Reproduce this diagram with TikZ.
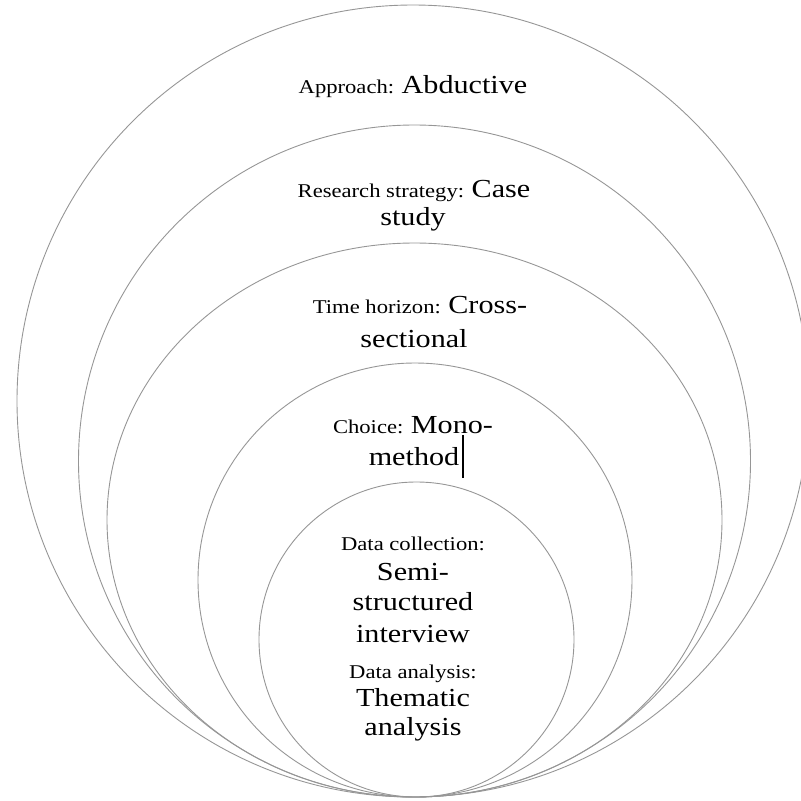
\documentclass[tikz,border=0pt]{standalone}
\usepackage{fontspec}
\setmainfont{Liberation Serif}[FakeStretch=1.16]
\newcommand\lblsm{\fontsize{19.5}{23}\selectfont}
\newcommand\lblbg{\fontsize{26}{30}\selectfont}
\begin{document}
\begin{tikzpicture}[x=1pt,y=-1pt,
  ring/.style={draw={rgb,255:red,150;green,150;blue,150},line width=0.9pt},
  txt/.style={anchor=base,inner sep=0pt,text=black}]
\useasboundingbox (0,0) rectangle (801,801);
\clip (0,0) rectangle (801,801);
\draw[ring] (413,401) circle[radius=396pt];
\draw[ring] (414.5,461) circle[radius=336pt];
\draw[ring] (414.5,520) ellipse[x radius=307.5pt,y radius=277pt];
\draw[ring] (415,580) circle[radius=217pt];
\draw[ring] (416.5,639.5) circle[radius=157.5pt];
\node[txt] (t1) at (413,93) {\lblsm Approach: \lblbg Abductive};
\node[txt] (t2) at (414,197) {\lblsm Research strategy: \lblbg Case};
\node[txt] (t3) at (413,225) {\lblbg study};
\node[txt] (t4) at (420,313) {\lblsm Time horizon: \lblbg Cross-};
\node[txt] (t5) at (414,347) {\lblbg sectional};
\node[txt] (t6) at (413,433) {\lblsm Choice: \lblbg Mono-};
\node[txt] (t7) at (414,465) {\lblbg method};
\node[txt] (t8) at (413,550) {\lblsm Data collection:};
\node[txt] (t9) at (413,580) {\lblbg Semi-};
\node[txt] (t10) at (413,610) {\lblbg structured};
\node[txt] (t11) at (413,642) {\lblbg interview};
\node[txt] (t12) at (413,678) {\lblsm Data analysis:};
\node[txt] (t13) at (413,706) {\lblbg Thematic};
\node[txt] (t14) at (413,735) {\lblbg analysis};
\coordinate (cur1) at (463,435);
\coordinate (cur2) at (463,478);
\draw[line width=1.2pt,black] (cur1) -- (cur2);
\end{tikzpicture}
\end{document}
